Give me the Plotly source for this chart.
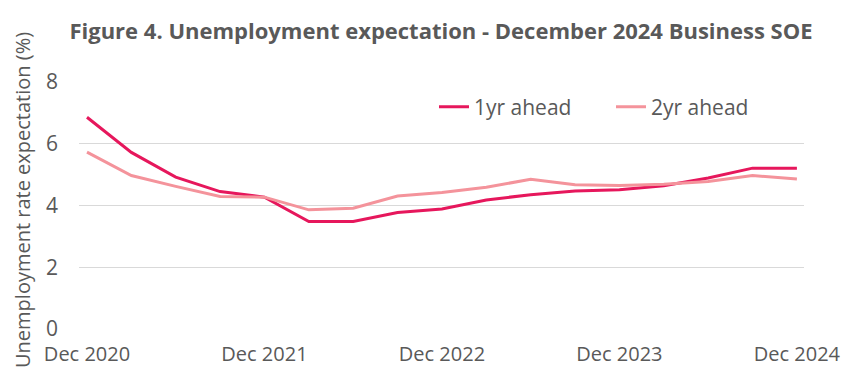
import plotly.graph_objects as go

quarters = ["Dec 2020", "Mar 2021", "Jun 2021", "Sep 2021", "Dec 2021", "Mar 2022", "Jun 2022",
            "Sep 2022", "Dec 2022", "Mar 2023", "Jun 2023", "Sep 2023", "Dec 2023", "Mar 2024",
            "Jun 2024", "Sep 2024", "Dec 2024"]
one_yr = [6.86, 5.72, 4.92, 4.45, 4.27, 3.48, 3.48, 3.77, 3.89, 4.18, 4.35, 4.47, 4.51, 4.64, 4.89, 5.21, 5.21]
two_yr = [5.73, 4.97, 4.62, 4.29, 4.27, 3.86, 3.91, 4.31, 4.42, 4.59, 4.85, 4.67, 4.65, 4.69, 4.78, 4.97, 4.86]
tick_labels = ["Dec 2020", "Dec 2021", "Dec 2022", "Dec 2023", "Dec 2024"]
y_ticks = [0, 2, 4, 6, 8]

x_idx = list(range(len(quarters)))
tick_pos = [quarters.index(t) for t in tick_labels]

FONT = "Open Sans"
GREY = "#595959"
PLOT_L, PLOT_R, PLOT_T, PLOT_B = 79, 804, 82, 329

fig = go.Figure()
fig.add_trace(go.Scatter(x=x_idx, y=one_yr, mode="lines", name="1yr ahead",
                         line=dict(color="#E6175C", width=3)))
fig.add_trace(go.Scatter(x=x_idx, y=two_yr, mode="lines", name="2yr ahead",
                         line=dict(color="#F4939B", width=3)))

pw = PLOT_R - PLOT_L
ph = PLOT_B - PLOT_T

fig.update_layout(
    width=857, height=369,
    margin=dict(l=PLOT_L, r=857 - PLOT_R, t=PLOT_T, b=369 - PLOT_B, autoexpand=False),
    paper_bgcolor="white", plot_bgcolor="white",
    font=dict(family=FONT, color=GREY, size=21),
    title=dict(text="<b>Figure 4. Unemployment expectation - December 2024 Business SOE</b>",
               x=441 / 857, xanchor="center", xref="container",
               y=1 - 31 / 369, yanchor="middle", yref="container",
               font=dict(family=FONT, size=22, color=GREY)),
    showlegend=True,
    legend=dict(orientation="h", x=(434 - PLOT_L) / pw, xanchor="left",
                y=(PLOT_B - 107) / ph, yanchor="middle",
                font=dict(family=FONT, size=21, color=GREY),
                bgcolor="rgba(0,0,0,0)", entrywidth=132, entrywidthmode="pixels"),
    annotations=[dict(text="Unemployment rate expectation (%)", textangle=-90,
                      xref="paper", yref="paper",
                      x=(22 - PLOT_L) / pw, y=(PLOT_B - 200) / ph,
                      xanchor="center", yanchor="middle", showarrow=False,
                      font=dict(family=FONT, size=20, color=GREY))],
)
fig.update_xaxes(range=[-0.18, 16.16], tickvals=tick_pos, ticktext=tick_labels,
                 showgrid=False, zeroline=False, showline=False, ticks="",
                 automargin=False,
                 ticklabelstandoff=11, tickfont=dict(size=20, color=GREY))
fig.update_yaxes(range=[0, 8], tickvals=y_ticks, showgrid=True, gridcolor="#D9D9D9",
                 gridwidth=1, zeroline=False, showline=False, ticks="",
                 automargin=False,
                 ticklabelstandoff=20, tickfont=dict(size=21, color=GREY))

fig.write_html("out.html")
